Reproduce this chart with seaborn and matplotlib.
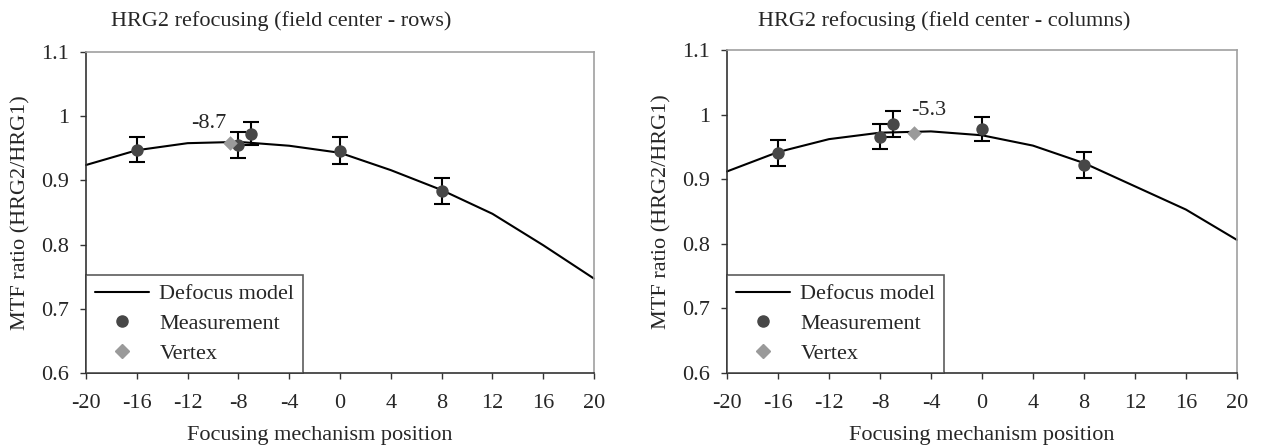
import numpy as np
import pandas as pd
import matplotlib
matplotlib.use("Agg")
import matplotlib.pyplot as plt
import seaborn as sns
from matplotlib.lines import Line2D

# ---- data ----
model_x = [-20, -16, -12, -8, -4, 0, 4, 8, 12, 16, 20]
rows_model = [0.924, 0.947, 0.958, 0.960, 0.954, 0.943, 0.916, 0.885, 0.848, 0.799, 0.747]
cols_model = [0.912, 0.942, 0.962, 0.972, 0.974, 0.968, 0.952, 0.925, 0.889, 0.853, 0.806]

meas_x = [-16, -8, -7, 0, 8]
rows_meas = [0.948, 0.955, 0.973, 0.946, 0.884]
rows_err = [0.019, 0.020, 0.018, 0.021, 0.020]
cols_meas = [0.940, 0.966, 0.986, 0.978, 0.922]
cols_err = [0.020, 0.020, 0.020, 0.019, 0.020]

rows_vertex = (-8.7, 0.959)
cols_vertex = (-5.3, 0.972)
rows_label = "-8.7"
cols_label = "-5.3"

titles = ["HRG2 refocusing (field center - rows)", "HRG2 refocusing (field center - columns)"]
xticks = [-20, -16, -12, -8, -4, 0, 4, 8, 12, 16, 20]
yticks = [0.6, 0.7, 0.8, 0.9, 1.0, 1.1]
ytick_labels = ["0.6", "0.7", "0.8", "0.9", "1", "1.1"]

sns.set_theme(style="white")
plt.rcParams['font.family'] = ['Liberation Serif', 'DejaVu Serif']

fig = plt.figure(figsize=(12.61, 4.48), dpi=100)
ax1 = fig.add_axes([0.0682, 0.1674, 0.4029, 0.7165])
ax2 = fig.add_axes([0.5765, 0.1674, 0.4044, 0.7210])

meas_color = "#474747"
vertex_color = "#9a9a9a"
fs = 16

panels = [
    (ax1, rows_model, rows_meas, rows_err, rows_vertex, rows_label, (-10.3, 0.989), titles[0], 0.2228, 0.46),
    (ax2, cols_model, cols_meas, cols_err, cols_vertex, cols_label, (-4.2, 1.007), titles[1], 0.7486, 0.50),
]

for ax, model, meas, err, vtx, vlabel, vpos, title, tx, xlx in panels:
    mdf = pd.DataFrame({"x": model_x, "y": model})
    sns.lineplot(data=mdf, x="x", y="y", ax=ax, color="black", lw=1.5, clip_on=False)
    ax.errorbar(meas_x, meas, yerr=err, fmt="none", ecolor="black", elinewidth=1.5,
                capsize=5.6, capthick=1.5, zorder=3)
    sdf = pd.DataFrame({"x": meas_x, "y": meas})
    sns.scatterplot(data=sdf, x="x", y="y", ax=ax, color=meas_color, s=80,
                    edgecolor=meas_color, linewidth=0, zorder=4)
    vdf = pd.DataFrame({"x": [vtx[0]], "y": [vtx[1]]})
    sns.scatterplot(data=vdf, x="x", y="y", ax=ax, color=vertex_color, marker="D", s=55,
                    edgecolor=vertex_color, linewidth=0, zorder=5)
    ax.text(vpos[0], vpos[1], vlabel, ha="center", va="center", fontsize=fs)

    ax.set_xlim(-20, 20)
    ax.set_ylim(0.6, 1.1)
    ax.set_xticks(xticks)
    ax.set_xticklabels([str(t) for t in xticks], fontsize=fs)
    ax.set_yticks(yticks)
    ax.set_yticklabels(ytick_labels, fontsize=fs)
    ax.tick_params(axis="x", direction="out", length=4, width=1, color="#333333",
                   bottom=True, pad=11)
    ax.tick_params(axis="y", direction="out", length=4, width=1, color="#333333",
                   left=True, pad=8)
    ax.set_xlabel("Focusing mechanism position", fontsize=fs, labelpad=3)
    ax.xaxis.set_label_coords(xlx, -0.165)
    ax.set_ylabel("MTF ratio (HRG2/HRG1)", fontsize=fs, labelpad=8)
    for s in ["left", "bottom"]:
        ax.spines[s].set_color("#333333")
        ax.spines[s].set_linewidth(1.2)
    for s in ["top", "right"]:
        ax.spines[s].set_color("#a0a0a0")
        ax.spines[s].set_linewidth(1.2)
    ax.grid(False)

    handles = [
        Line2D([], [], color="black", lw=1.5),
        Line2D([], [], color=meas_color, marker="o", ls="none", markersize=8),
        Line2D([], [], color=vertex_color, marker="D", ls="none", markersize=7),
    ]
    leg = ax.legend(handles, ["Defocus model", "Measurement", "Vertex"], loc="lower left",
                    bbox_to_anchor=(0, 0), borderaxespad=0, fontsize=fs, frameon=True,
                    fancybox=False, edgecolor="#333333", handlelength=2.45, handletextpad=0.45,
                    labelspacing=0.42, borderpad=0.4)
    leg.get_frame().set_linewidth(1.2)
    fig.text(tx, 0.952, title, ha="center", va="center", fontsize=fs)

fig.savefig("out.png", dpi=100)
